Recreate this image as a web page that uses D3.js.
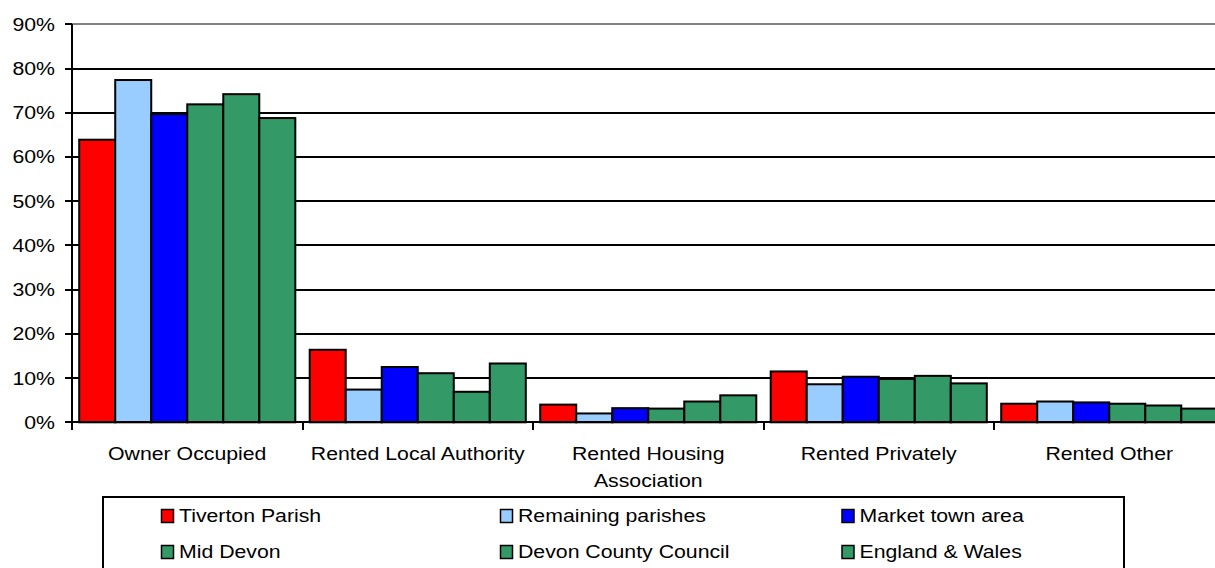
<!DOCTYPE html>
<html><head><meta charset="utf-8">
<script src="https://cdn.jsdelivr.net/npm/d3@7"></script>
<style>body{margin:0;background:#fff;overflow:hidden}svg{display:block}text{font-family:"Liberation Sans",Arial,sans-serif;fill:#000}</style>
</head><body><svg id="c" width="1215" height="568"></svg>
<script>
const categories = ["Owner Occupied", "Rented Local Authority", "Rented Housing Association", "Rented Privately", "Rented Other"];
const seriesNames = ["Tiverton Parish", "Remaining parishes", "Market town area", "Mid Devon", "Devon County Council", "England & Wales"];
const seriesColors = ["#FF0000", "#99CCFF", "#0000FF", "#339966", "#339966", "#339966"];
const tiverton   = [63.9, 16.4, 4.0, 11.5, 4.2];
const remaining  = [77.4, 7.4, 2.0, 8.6, 4.7];
const marketTown = [69.7, 12.5, 3.2, 10.3, 4.5];
const midDevon   = [71.9, 11.1, 3.1, 9.8, 4.2];
const devonCC    = [74.2, 6.9, 4.7, 10.5, 3.8];
const englandW   = [68.8, 13.3, 6.1, 8.8, 3.1];
const yTicks = [0, 10, 20, 30, 40, 50, 60, 70, 80, 90];

const seriesValues = [tiverton, remaining, marketTown, midDevon, devonCC, englandW];
const svg = d3.select("#c");
const FS = 18.5, SX = 1.15;
const x0 = d3.scaleBand().domain(categories).range([72, 72 + 5 * 230.5]).paddingInner(0).paddingOuter(0);
const x1 = d3.scaleBand().domain(seriesNames).range([0, x0.bandwidth()]).paddingInner(0).paddingOuter(0.2);
const y = d3.scaleLinear().domain([0, 90]).range([422.3, 24.3]);
const yr = v => Math.round(y(v));

function stretchedText(g, tx, ty, str, anchor) {
  return g.append("text").attr("transform", `translate(${tx},${ty}) scale(${SX},1)`)
    .attr("text-anchor", anchor).attr("font-size", FS).text(str);
}

// gridlines
svg.append("g").selectAll("line").data(yTicks.filter(d => d > 0)).join("line")
  .attr("x1", 72).attr("x2", 1215).attr("y1", d => yr(d)).attr("y2", d => yr(d))
  .attr("stroke", d => d === 90 ? "#808080" : "#000").attr("stroke-width", 2);

// bars
const groups = svg.append("g").selectAll("g").data(categories).join("g")
  .attr("transform", d => `translate(${x0(d)},0)`);
groups.selectAll("rect").data((c, ci) => seriesNames.map((s, si) => ({s, si, v: seriesValues[si][ci]}))).join("rect")
  .attr("x", d => x1(d.s)).attr("width", x1.bandwidth())
  .attr("y", d => y(d.v)).attr("height", d => y(0) - y(d.v))
  .attr("fill", d => seriesColors[d.si]).attr("stroke", "#000").attr("stroke-width", 2);

// y axis
const yAxis = d3.axisLeft(y).tickValues(yTicks).tickSize(7).tickFormat("");
const ya = svg.append("g").attr("transform", "translate(72,0)").call(yAxis);
ya.selectAll("path,line").attr("stroke", "#000").attr("stroke-width", 2);
ya.selectAll(".tick").attr("transform", d => `translate(0,${yr(d)})`);
ya.select("path").attr("d", `M0,${yr(90)}V${yr(0)}`);
yTicks.forEach(t => stretchedText(svg, 55, y(t) + FS * 0.35, t + "%", "end"));

// x axis
svg.append("line").attr("x1", 72).attr("x2", 1215).attr("y1", yr(0)).attr("y2", yr(0)).attr("stroke", "#000").attr("stroke-width", 2);
svg.append("g").selectAll("line").data(categories).join("line")
  .attr("x1", d => Math.round(x0(d))).attr("x2", d => Math.round(x0(d))).attr("y1", yr(0)).attr("y2", yr(0) + 8)
  .attr("stroke", "#000").attr("stroke-width", 2);
const labelLines = {"Rented Housing Association": ["Rented Housing", "Association"]};
categories.forEach(c => {
  const lines = labelLines[c] || [c];
  lines.forEach((ln, i) => stretchedText(svg, x0(c) + x0.bandwidth() / 2, 459.6 + i * 27, ln, "middle"));
});

// legend
svg.append("rect").attr("x", 103).attr("y", 497).attr("width", 1021).attr("height", 100)
  .attr("fill", "#fff").attr("stroke", "#000").attr("stroke-width", 2);
const legX = [161.5, 500.5, 842];
const legY = [516, 552];
seriesNames.forEach((s, i) => {
  const lx = legX[i % 3], ly = legY[Math.floor(i / 3)];
  svg.append("rect").attr("x", lx).attr("y", ly - 6.5).attr("width", 12).attr("height", 13)
    .attr("fill", seriesColors[i]).attr("stroke", "#000").attr("stroke-width", 1.5);
  stretchedText(svg, lx + 17.5, ly + FS * 0.35, s, "start");
});
</script></body></html>
